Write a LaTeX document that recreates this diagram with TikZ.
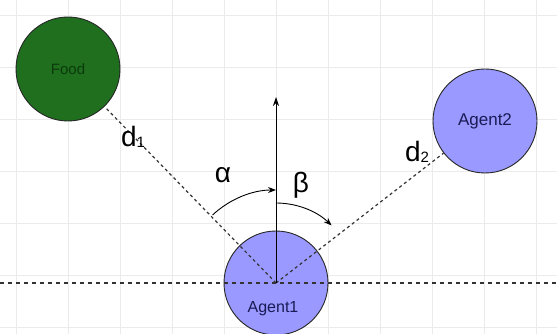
\documentclass[tikz,border=0pt]{standalone}
\usepackage{fontspec}
\setmainfont{Liberation Sans}
\usepackage{tikz}
\usetikzlibrary{arrows.meta, positioning}
\definecolor{foodgreen}{HTML}{1F6F1F}
\definecolor{foodtext}{HTML}{0B3A0B}
\definecolor{agentblue}{HTML}{9999FF}
\definecolor{agenttext}{HTML}{1A1A55}
\definecolor{gridgray}{HTML}{EBEBEB}
\newcommand{\dsub}[1]{d\raisebox{-1pt}{\fontsize{15}{17}\selectfont #1}}
\tikzset{
  entity/.style={circle, draw=black!85, line width=0.9pt, minimum size=104pt, inner sep=0pt},
  food/.style={entity, fill=foodgreen, text=foodtext, font=\fontsize{15}{18}\selectfont},
  agent/.style={entity, fill=agentblue, text=agenttext, font=\fontsize{17}{20}\selectfont},
  symlabel/.style={anchor=base, inner sep=0pt, font=\fontsize{28}{32}\selectfont},
  gridline/.style={gridgray, line width=0.8pt},
  distline/.style={dashed, dash pattern=on 3pt off 3pt, line width=1.2pt, black!80},
  axisline/.style={dashed, dash pattern=on 4pt off 4pt, line width=1.2pt, black!80},
  arrow/.style={-{Stealth[length=9pt, width=6pt]}, line width=0.9pt},
  anglearrow/.style={-{Stealth[length=8pt, width=6pt]}, line width=0.9pt},
}
\begin{document}
\begin{tikzpicture}[x=1pt, y=1pt]
\useasboundingbox[fill=white] (0,0) rectangle (557,334);

% background grid
\foreach \gx in {16,68,...,536} \draw[gridline] (\gx,0) -- (\gx,334);
\foreach \gy in {7,59,...,319} \draw[gridline] (0,\gy) -- (557,\gy);

\node[food] (food) at (68,265) {Food};
\node[agent] (agent2) at (485,213) {Agent2};
\node[agent] (agent1) at (276,51) {};

\coordinate (axisleft) at (0,51);
\coordinate (axisright) at (557,51);
\coordinate (heading) at (276,237);

\draw[axisline] (axisleft) -- (axisright);
\draw[distline] (agent1.center) -- (food);
\draw[distline] (agent1.center) -- (agent2);
\draw[arrow] (agent1.center) -- (heading);

% angle arcs
\draw[anglearrow] ([shift={(133:93)}]agent1.center) arc[start angle=133, end angle=90, radius=93];
\draw[anglearrow] ([shift={(90:80)}]agent1.center) arc[start angle=90, end angle=46, radius=80];

\node[symlabel] (alpha) at (223,151) {α};
\node[symlabel] (beta) at (301,141) {β};
\node[symlabel] (dist1) at (133,187) {\dsub{1}};
\node[symlabel] (dist2) at (417,172) {\dsub{2}};
\node[anchor=base, text=agenttext, font=\fontsize{16}{19}\selectfont] (agent1name) at (273,21) {Agent1};

\end{tikzpicture}
\end{document}
